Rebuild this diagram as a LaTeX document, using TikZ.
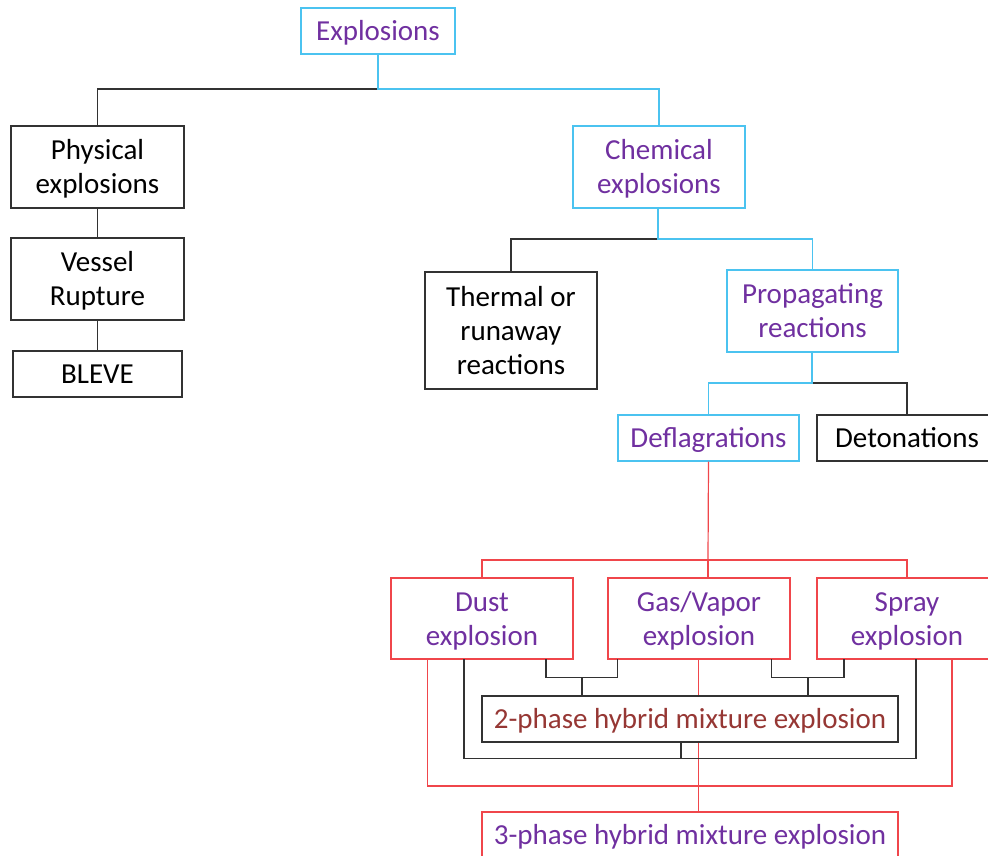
\documentclass[tikz,border=0pt]{standalone}
\usepackage{fontspec}
\setmainfont{Carlito}
\definecolor{cyanc}{RGB}{75,195,240}
\definecolor{purp}{RGB}{112,48,160}
\definecolor{redc}{RGB}{240,70,75}
\definecolor{darkl}{RGB}{50,50,50}
\definecolor{brownred}{RGB}{150,55,52}
\newcommand\sst{\rule[-6.7pt]{0pt}{32.7pt}}
\tikzset{
  bx/.style={rectangle, inner sep=0pt, align=center, line width=1.2pt, fill=white,
    font=\fontsize{29}{34}\selectfont},
  cybox/.style={bx, draw=cyanc, text=purp},
  blbox/.style={bx, draw=darkl, text=black},
  rdbox/.style={bx, draw=redc, text=purp},
  cyl/.style={draw=cyanc, line width=1.2pt},
  bll/.style={draw=darkl, line width=1.2pt},
  rdl/.style={draw=redc, line width=1.2pt},
}
\begin{document}
\begin{tikzpicture}[x=1pt,y=-1pt]
\useasboundingbox (0,0) rectangle (988,856);
\clip (0,0) rectangle (988,856);
% nodes
\node[cybox, minimum width=154pt, minimum height=46pt] (expl) at (378,31) {\sst Explosions};
\node[blbox, minimum width=173pt, minimum height=82pt] (phys) at (97.5,167) {\sst Physical\\\sst explosions};
\node[blbox, minimum width=173pt, minimum height=82pt] (vess) at (97.5,279) {\sst Vessel\\\sst Rupture};
\node[blbox, minimum width=169pt, minimum height=46pt] (bleve) at (97.5,374) {\sst BLEVE};
\node[cybox, minimum width=172pt, minimum height=82pt] (chem) at (659,167) {\sst Chemical\\\sst explosions};
\node[blbox, minimum width=172pt, minimum height=117pt] (therm) at (511,330.5) {\sst Thermal or\\\sst runaway\\\sst reactions};
\node[cybox, minimum width=171pt, minimum height=82pt] (prop) at (812.5,311) {\sst Propagating\\\sst reactions};
\node[cybox, minimum width=181pt, minimum height=46pt] (defl) at (708.5,438) {\sst Deflagrations};
\node[blbox, minimum width=180pt, minimum height=46pt] (deto) at (907,438) {\sst Detonations};
\node[rdbox, minimum width=182pt, minimum height=81pt] (dust) at (482,618.5) {\sst Dust\\\sst explosion};
\node[rdbox, minimum width=182pt, minimum height=81pt] (gas) at (699,618.5) {\sst Gas/Vapor\\\sst explosion};
\node[rdbox, minimum width=180pt, minimum height=81pt] (spray) at (907,618.5) {\sst Spray\\\sst explosion};
\node[rdbox, minimum width=416pt, minimum height=46pt] (three) at (690,835) {\sst 3-phase hybrid mixture explosion};
% top tree connectors
\coordinate (j1) at (378,89);
\draw[bll] (j1) -| (phys.north);
\draw[cyl] (expl.south) -- (j1) -| (chem.north);
\draw[bll] (phys.south) -- (vess.north);
\draw[bll] (vess.south) -- (bleve.north);
\coordinate (j2) at (658,239);
\draw[bll] (j2) -| (therm.north);
\draw[cyl] (chem.south -| j2) -- (j2) -| (prop.north);
\coordinate (j3) at (812,383);
\draw[bll] (j3) -| (deto.north);
\draw[cyl] (prop.south -| j3) -- (j3) -| (defl.north);
% red tree
\coordinate (j4) at (708,560);
\draw[rdl] (defl.south) -- (j4);
\draw[rdl] (dust.north) |- (j4) -| (spray.north);
\draw[rdl] (j4) -- (gas.north -| j4);
% red outer loop to 3-phase
\coordinate (dr) at (427.7,659);
\coordinate (sr) at (952,659);
\coordinate (j5) at (698.7,786);
\draw[rdl] (dr) |- (j5) -| (sr);
\draw[rdl] (gas.south -| j5) -- (three.north -| j5);
% black connectors to 2-phase
\coordinate (da) at (546,659);
\coordinate (ga) at (617.3,659);
\coordinate (gb) at (771.6,659);
\coordinate (sa) at (844,659);
\draw[bll] (da) |- (582,677.3) -| (ga);
\draw[bll] (582,677.3) -- (582,696);
\draw[bll] (gb) |- (808,677.3) -| (sa);
\draw[bll] (808,677.3) -- (808,696);
\coordinate (db) at (464,659);
\coordinate (sb) at (916,659);
\coordinate (j6) at (681,758.7);
\draw[bll] (db) |- (j6) -| (sb);
\node[bx, draw=darkl, text=brownred, minimum width=416pt, minimum height=46pt] (two) at (690,719) {\sst 2-phase hybrid mixture explosion};
\draw[bll] (two.south -| j6) -- (j6);
\end{tikzpicture}
\end{document}
